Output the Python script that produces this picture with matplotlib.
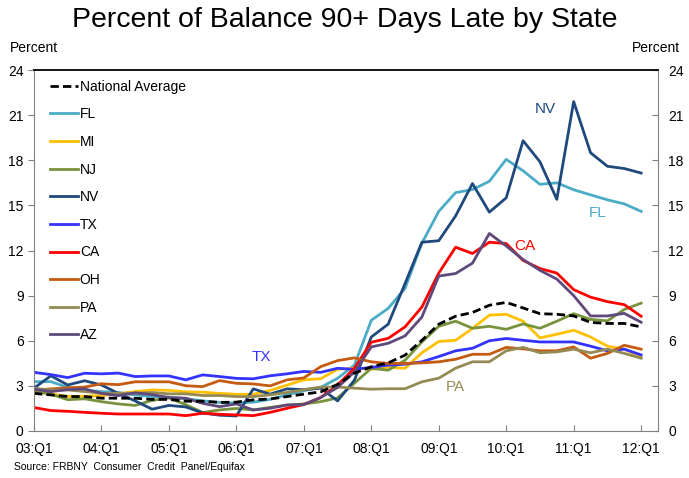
import numpy as np
import matplotlib
matplotlib.use("Agg")
import matplotlib.pyplot as plt

plt.rcParams["font.family"] = ["Liberation Sans", "DejaVu Sans"]

# quarterly, 03:Q1 .. 12:Q1
quarters = [f"{y:02d}:Q{q}" for y in range(3, 13) for q in range(1, 5)][:37]
year_ticks = [f"{y:02d}:Q1" for y in range(3, 13)]

national = [2.5, 2.4, 2.29, 2.29, 2.18, 2.18, 2.18, 2.1, 2.1, 1.98, 1.98, 1.9, 1.92, 2.07, 2.13, 2.29, 2.45, 2.6, 3.1,
            3.85, 4.27, 4.53, 5.04, 6.03, 7.1, 7.63, 7.88, 8.36, 8.55, 8.18, 7.8, 7.76, 7.65, 7.22, 7.15, 7.15, 6.92]
fl = [3.28, 3.28, 2.9, 2.72, 2.62, 2.56, 2.4, 2.29, 2.25, 2.15, 2.0, 1.9, 1.86, 1.92, 2.1, 2.4, 2.68, 2.9, 3.5,
      4.38, 7.36, 8.15, 9.48, 12.49, 14.6, 15.85, 16.05, 16.6, 18.06, 17.3, 16.4, 16.5, 16.04, 15.7, 15.37, 15.1, 14.6]
mi = [2.62, 2.47, 2.3, 2.3, 2.36, 2.47, 2.62, 2.73, 2.7, 2.6, 2.58, 2.5, 2.44, 2.44, 2.7, 3.05, 3.4, 3.48, 4.1,
      4.17, 4.1, 4.23, 4.17, 5.2, 5.95, 6.03, 6.82, 7.7, 7.76, 7.3, 6.19, 6.43, 6.7, 6.25, 5.64, 5.44, 4.93]
nj = [2.65, 2.45, 2.08, 2.14, 1.95, 1.8, 1.7, 2.03, 2.2, 1.75, 1.23, 1.4, 1.5, 1.4, 1.57, 1.72, 1.8, 1.95, 2.2,
      3.18, 4.17, 4.04, 4.7, 5.92, 6.96, 7.3, 6.83, 6.96, 6.76, 7.12, 6.83, 7.3, 7.8, 7.42, 7.32, 8.08, 8.5]
nv = [2.85, 3.67, 3.06, 3.34, 3.06, 2.5, 2.0, 1.45, 1.7, 1.6, 1.2, 1.05, 1.0, 2.8, 2.45, 2.8, 2.75, 2.85, 2.0,
      3.38, 6.25, 7.1, 9.8, 12.55, 12.65, 14.3, 16.45, 14.55, 15.5, 19.3, 17.9, 15.4, 21.9, 18.5, 17.6, 17.45, 17.15]
tx = [3.9, 3.75, 3.55, 3.84, 3.8, 3.85, 3.62, 3.66, 3.66, 3.4, 3.73, 3.62, 3.5, 3.47, 3.67, 3.8, 3.96, 3.9, 4.17,
      4.1, 4.23, 4.38, 4.44, 4.6, 4.95, 5.33, 5.5, 6.0, 6.15, 6.03, 5.92, 5.92, 5.92, 5.64, 5.33, 5.44, 5.06]
ca = [1.56, 1.36, 1.31, 1.24, 1.18, 1.13, 1.13, 1.13, 1.13, 1.02, 1.18, 1.11, 1.07, 1.02, 1.24, 1.51, 1.76, 2.23, 3.06,
      4.17, 5.9, 6.16, 6.92, 8.24, 10.5, 12.22, 11.8, 12.55, 12.46, 11.34, 10.8, 10.5, 9.4, 8.9, 8.6, 8.4, 7.63]
oh = [2.72, 2.8, 2.87, 2.92, 3.14, 3.08, 3.27, 3.27, 3.27, 3.01, 2.95, 3.35, 3.17, 3.13, 3.0, 3.4, 3.53, 4.28, 4.68,
      4.86, 4.6, 4.49, 4.49, 4.53, 4.6, 4.77, 5.1, 5.1, 5.56, 5.46, 5.33, 5.33, 5.59, 4.84, 5.16, 5.7, 5.44]
pa = [2.84, 2.73, 2.73, 2.62, 2.51, 2.51, 2.51, 2.56, 2.47, 2.47, 2.36, 2.36, 2.29, 2.29, 2.4, 2.56, 2.75, 2.92, 2.92,
      2.85, 2.78, 2.81, 2.81, 3.27, 3.51, 4.18, 4.6, 4.6, 5.33, 5.56, 5.2, 5.26, 5.44, 5.2, 5.44, 5.16, 4.84]
az = [2.78, 2.62, 2.75, 2.8, 2.5, 2.35, 2.54, 2.42, 2.22, 2.18, 1.84, 1.62, 1.8, 1.4, 1.51, 1.73, 1.76, 2.22, 2.9,
      3.93, 5.59, 5.83, 6.32, 7.58, 10.3, 10.47, 11.16, 13.13, 12.3, 11.4, 10.68, 10.1, 9.0, 7.65, 7.65, 7.82, 7.23]

states = [("FL", fl, "#4BACC6"), ("MI", mi, "#FFC000"), ("NJ", nj, "#77933C"), ("NV", nv, "#1F497D"),
          ("TX", tx, "#3333FF"), ("CA", ca, "#FF0000"), ("OH", oh, "#C55A11"), ("PA", pa, "#948A54"),
          ("AZ", az, "#604A7B")]

fig = plt.figure(figsize=(6.89, 4.78), dpi=100)
ax = fig.add_axes([34 / 689, 1 - 431 / 478, 624 / 689, 361 / 478])
x = np.arange(len(quarters))

handles = []
for name, vals, col in states:
    h, = ax.plot(x, vals, color=col, lw=2, label=name)
    handles.append(h)
hn, = ax.plot(x, national, color="black", lw=2, ls=(0, (3, 1.5)), label="National Average")
handles.insert(0, hn)

ax.set_xlim(0, 37)
ax.set_ylim(0, 24)
ax.set_yticks(range(0, 25, 3))
ax.set_xticks(x[::4])
ax.set_xticklabels(year_ticks, fontsize=10)
ax.tick_params(axis="y", direction="out", length=4, labelsize=10, color="#808080",
               right=True, labelright=True)
ax.tick_params(axis="x", direction="in", length=4, color="#808080", pad=8)
for t in ax.yaxis.get_major_ticks():
    t.tick2line.set_marker(matplotlib.lines.TICKLEFT)  # right-side ticks point inward
for s in ["left", "right", "bottom"]:
    ax.spines[s].set_color("#808080")
ax.spines["top"].set_color("black")
ax.spines["top"].set_linewidth(1.3)

ax.legend(handles=handles, loc="upper left", frameon=False, fontsize=10, handlelength=2.0,
          handletextpad=0.15, labelspacing=0.98, borderaxespad=0.3, bbox_to_anchor=(0.01, 1.0))

# direct labels on the chart
ax.text(30.3, 21.4, "NV", color="#1F497D", fontsize=11, ha="center", va="center")
ax.text(33.4, 14.5, "FL", color="#4BACC6", fontsize=11, ha="center", va="center")
ax.text(29.1, 12.3, "CA", color="#FF0000", fontsize=11, ha="center", va="center")
ax.text(13.5, 4.95, "TX", color="#3333FF", fontsize=11, ha="center", va="center")
ax.text(25.0, 2.9, "PA", color="#948A54", fontsize=11, ha="center", va="center")

fig.text(0.5, 0.958, "Percent of Balance 90+ Days Late by State", ha="center", va="center", fontsize=20.5)
fig.text(10 / 689, 1 - 48 / 478, "Percent", ha="left", va="center", fontsize=10)
fig.text(680 / 689, 1 - 48 / 478, "Percent", ha="right", va="center", fontsize=10)
fig.text(14 / 689, 1 - 467 / 478, "Source: FRBNY  Consumer  Credit  Panel/Equifax", ha="left", va="center",
         fontsize=7.5)

fig.savefig("out.png", dpi=100)
